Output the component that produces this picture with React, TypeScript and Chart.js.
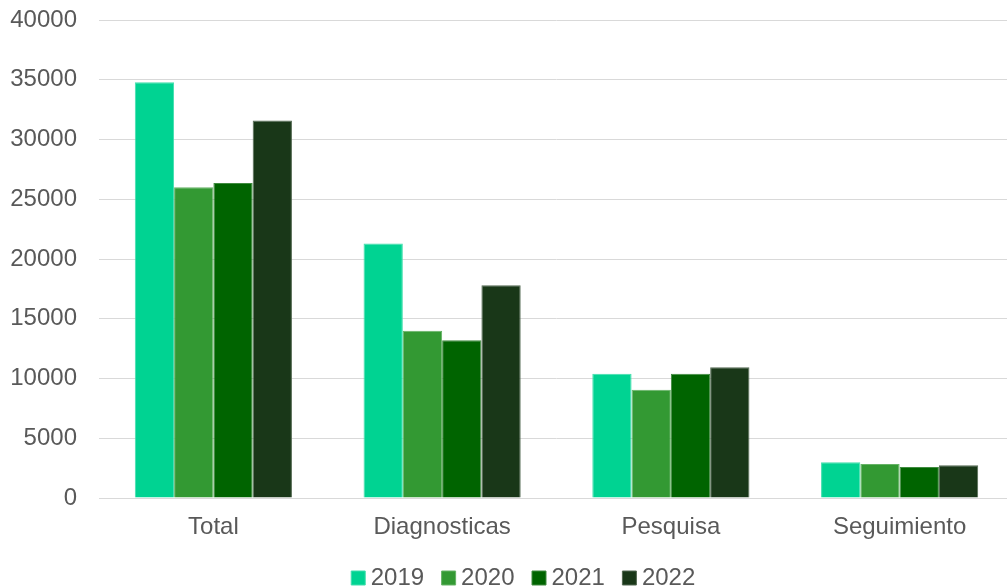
import React, { useEffect, useRef } from "react";
import { Chart, registerables } from "chart.js";

Chart.register(...registerables);

const categories = ["Total", "Diagnosticas", "Pesquisa", "Seguimiento"];
const seriesLabels = ["2019", "2020", "2021", "2022"];
const values2019 = [34800, 21300, 10400, 3000];
const values2020 = [26000, 14000, 9050, 2850];
const values2021 = [26350, 13200, 10400, 2600];
const values2022 = [31600, 17800, 10950, 2750];
const seriesColors = ["#00D392", "#339933", "#006400", "#193718"];
const seriesEdges = ["#40DEAD", "#66B366", "#408B40", "#536952"];
const yMin = 0;
const yMax = 40000;
const yStep = 5000;

const FONT = "'Liberation Sans', Arial, sans-serif";
const TEXT = "#595959";
const GRID = "#d9d9d9";

const legendFit = {
  id: "legendFit",
  afterInit(chart: any) {
    const l = chart.legend;
    if (!l) return;
    const orig = l.fit;
    l.fit = function () {
      orig.call(this);
      this.height = 47;
    };
  },
  afterLayout(chart: any) {
    const l = chart.legend;
    if (!l) return;
    l.left += 15;
    l.right += 15;
    l.top += 1;
    l.bottom += 1;
  },
};

export default function App() {
  const ref = useRef<HTMLCanvasElement | null>(null);

  useEffect(() => {
    if (!ref.current) return;
    const all = [values2019, values2020, values2021, values2022];
    const chart = new Chart(ref.current, {
      type: "bar",
      data: {
        labels: categories,
        datasets: seriesLabels.map((label, i) => ({
          label,
          data: all[i],
          backgroundColor: seriesColors[i],
          borderColor: seriesEdges[i],
          borderWidth: 1,
          categoryPercentage: 0.687,
          barPercentage: 1,
        })),
      },
      options: {
        responsive: false,
        animation: false,
        layout: { padding: { left: 9, top: 20, right: 0, bottom: 0 } },
        scales: {
          x: {
            afterFit(scale: any) {
              scale.height = 43;
            },
            grid: { display: false, drawTicks: false },
            border: { display: true, color: GRID, width: 1 },
            ticks: { color: TEXT, font: { family: FONT, size: 24 }, padding: 15 },
          },
          y: {
            min: yMin,
            max: yMax,
            afterFit(scale: any) {
              scale.width = 90;
              scale.paddingTop = 0;
              scale.paddingBottom = 0;
            },
            ticks: {
              stepSize: yStep,
              color: TEXT,
              font: { family: FONT, size: 24 },
              padding: 22,
              callback: (v: any) => String(v),
            },
            grid: { color: GRID, lineWidth: 1, drawTicks: false },
            border: { display: false },
          },
        },
        plugins: {
          legend: {
            position: "bottom",
            labels: {
              usePointStyle: true,
              pointStyle: "rect",
              boxWidth: 1,
              boxHeight: 14,
              padding: 24,
              color: TEXT,
              font: { family: FONT, size: 24 },
            },
          },
          tooltip: { enabled: false },
        },
      } as any,
      plugins: [legendFit],
    });
    return () => chart.destroy();
  }, []);

  return (
    <div
      style={{
        position: "fixed",
        left: 0,
        top: 0,
        width: 1007,
        height: 588,
        overflow: "hidden",
        background: "#fff",
      }}
    >
      <canvas ref={ref} width={1014} height={588} style={{ display: "block" }} />
    </div>
  );
}
